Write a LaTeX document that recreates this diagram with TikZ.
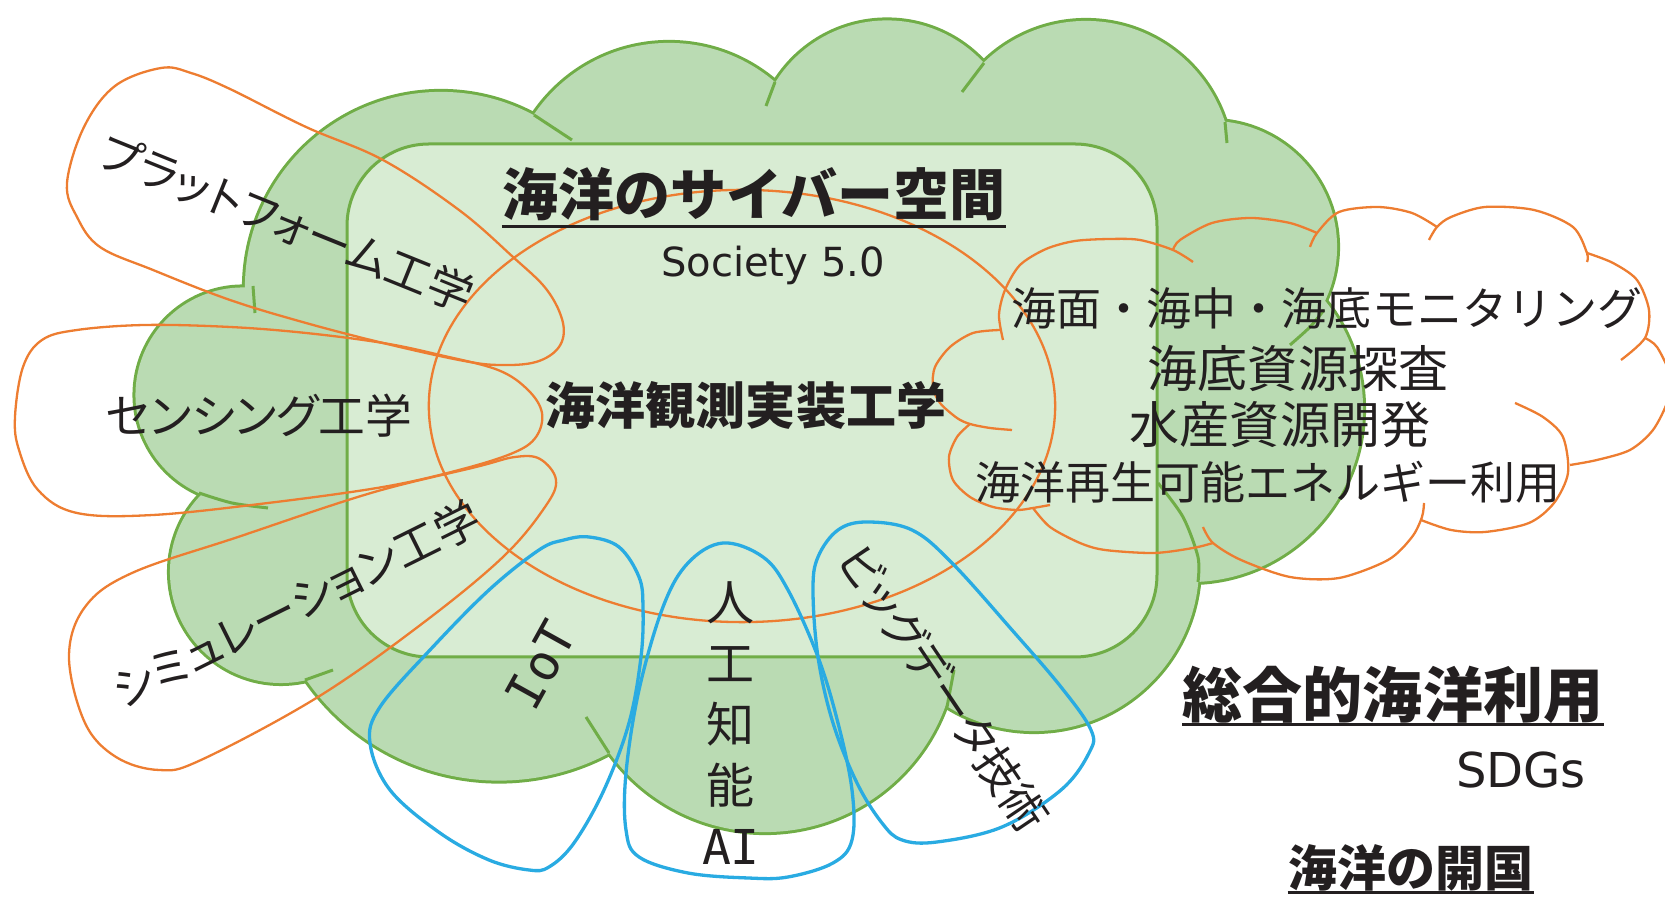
\documentclass[tikz,border=0pt]{standalone}
\usepackage{fontspec}
\setmainfont{Noto Sans CJK JP}
\newfontfamily\jpp[RawFeature=+palt]{Noto Sans CJK JP}
\newfontfamily\lat{DejaVu Sans}
\newfontfamily\latmono{DejaVu Sans Mono}
\usetikzlibrary{calc}
\definecolor{gfill}{HTML}{BADBB3}
\definecolor{rfill}{HTML}{D8ECD3}
\definecolor{gline}{HTML}{70AD47}
\definecolor{oline}{HTML}{ED7D31}
\definecolor{bline}{HTML}{29ABE2}
\definecolor{txt}{HTML}{231F20}
\tikzset{
  gstroke/.style={draw=gline, line width=0.06cm},
  stub/.style={draw=gline, line width=0.03cm},
  rectbox/.style={draw=gline, fill=rfill, line width=0.03cm, rounded corners=0.82cm},
  oloop/.style={draw=oline, line width=0.023cm},
  bloop/.style={draw=bline, line width=0.033cm},
  lbl/.style={text=txt, inner sep=0pt},
  uline/.style={draw=txt, line width=0.03cm},
}
\begin{document}
\begin{tikzpicture}[x=0.01cm,y=-0.01cm]
\useasboundingbox (0,0) rectangle (1665,904);
\clip (0,0) rectangle (1665,904);
% ---- big green cloud (union of lobes)
\foreach \cx/\cy/\r in {441/288/1.96, 669/206/1.63, 887/152/1.315, 1086/167/1.46, 1211/247/1.26, 1190/409/1.73, 1034/566/1.65, 765/640/1.92, 499/546/2.345, 281/572/1.11, 243/395/1.075}
  \draw[gstroke] (\cx,\cy) circle[radius=\r cm];
\foreach \cx/\cy/\r in {441/288/1.96, 669/206/1.63, 887/152/1.315, 1086/167/1.46, 1211/247/1.26, 1190/409/1.73, 1034/566/1.65, 765/640/1.92, 499/546/2.345, 281/572/1.11, 243/395/1.075}
  \fill[gfill] (\cx,\cy) circle[radius=\r cm];
\fill[gfill] (256,290) -- (534,118) -- (775,85) -- (984,66) -- (1222,124) -- (1320,310) -- (1196,579) -- (947,704) -- (609,750) -- (307,677) -- (202,492) -- cycle;
% stubs
\draw[stub] (253,286) -- (255,313);
\draw[stub] (534,115) -- (572,140);
\draw[stub] (775,82) -- (766,106);
\draw[stub] (984,63) -- (962,92);
\draw[stub] (1225,122) -- (1227,143);
\draw[stub] plot[smooth] coordinates {(1324,310) (1310,327) (1290,345)};
\draw[stub] plot[smooth] coordinates {(1198,582) (1198,557) (1183,517) (1158,483)};
\draw[stub] (947,707) -- (954,670);
\draw[stub] (609,753) -- (586,717);
\draw[stub] (305,680) -- (333,670);
\draw[stub] plot[smooth] coordinates {(199,493) (232,503) (268,508)};
% ---- inner rounded rectangle
\draw[rectbox] (347,144) rectangle (1157,657);
% ---- orange shapes
\draw[oloop] (742,406) ellipse[x radius=3.13cm, y radius=2.16cm];
\draw[oloop] plot[smooth cycle, tension=0.6] coordinates {(161,68) (115,86) (84,127) (67,183) (77,217) (100,247) (153,270) (230,300) (306,323) (383,343) (459,360) (498,365) (536,362) (559,347) (563,323) (547,290) (513,257) (459,210) (383,160) (306,127) (230,89) (191,73)};
\draw[oloop] plot[smooth cycle, tension=0.6] coordinates {(77,330) (145,325) (230,327) (306,333) (383,343) (440,355) (498,370) (528,390) (542,413) (536,437) (513,453) (459,470) (383,487) (268,503) (153,515) (77,513) (38,490) (19,450) (15,417) (23,367) (42,340)};
\draw[oloop] plot[smooth cycle, tension=0.6] coordinates {(540,459) (556,480) (545,507) (503,557) (423,623) (318,697) (201,760) (159,770) (116,757) (85,723) (69,657) (85,607) (132,573) (238,537) (371,493) (476,467) (515,457)};
% right cloud
\draw[oloop] plot[smooth] coordinates {(1193,262) (1173,250) (1140,240) (1110,239) (1075,241) (1046,249) (1020,265) (1005,290) (999,315) (1003,340)};
\draw[oloop] plot[smooth] coordinates {(1000,330) (973,333) (950,347) (935,367) (933,387) (940,403) (957,418) (970,424) (990,428) (1012,430)};
\draw[oloop] plot[smooth] coordinates {(970,424) (957,437) (949,457) (953,480) (970,497) (993,507) (1017,510) (1033,508) (1050,505)};
\draw[oloop] plot[smooth] coordinates {(1033,508) (1050,527) (1080,543) (1105,550) (1154,553) (1193,548) (1213,543)};
\draw[oloop] plot[smooth] coordinates {(1203,527) (1213,543) (1241,560) (1290,577) (1339,578) (1388,560) (1412,537) (1422,517) (1424,503)};
\draw[oloop] plot[smooth] coordinates {(1421,520) (1451,530) (1485,532) (1529,523) (1554,503) (1568,473) (1563,437) (1543,417) (1515,403)};
\draw[oloop] plot[smooth] coordinates {(1570,465) (1597,460) (1630,450) (1653,430) (1668,400) (1670,375) (1657,347) (1645,338)};
\draw[oloop] plot[smooth] coordinates {(1621,360) (1645,338) (1649,310) (1637,280) (1613,263) (1587,253)};
\draw[oloop] plot[smooth] coordinates {(1587,262) (1587,253) (1573,227) (1534,210) (1485,207) (1451,217) (1437,227) (1429,240)};
\draw[oloop] plot[smooth] coordinates {(1310,247) (1317,233) (1339,212) (1378,207) (1412,213) (1437,227)};
\draw[oloop] plot[smooth] coordinates {(1173,250) (1180,240) (1212,223) (1251,218) (1290,223) (1317,233)};
% ---- blue loops
\draw[bloop] plot[smooth cycle, tension=0.6] coordinates {(589,537) (619,547) (639,577) (643,607) (641,657) (629,723) (604,790) (574,843) (549,867) (529,870) (489,860) (440,833) (390,790) (370,743) (380,707) (430,650) (489,590) (539,550) (564,540)};
\draw[bloop] plot[smooth cycle, tension=0.6] coordinates {(723,543) (763,557) (788,590) (818,657) (838,723) (852,790) (852,840) (833,863) (788,877) (748,878) (688,873) (639,857) (626,830) (626,773) (639,690) (663,607) (688,563)};
\draw[bloop] plot[smooth cycle, tension=0.6] coordinates {(867,522) (912,530) (952,563) (1012,630) (1061,687) (1091,730) (1089,753) (1061,790) (1002,827) (937,842) (902,840) (882,823) (857,783) (833,723) (818,657) (813,590) (818,557) (838,530)};
% ---- texts
\node[lbl, font=\bfseries\fontsize{15.93pt}{18pt}\selectfont] (title) at (754,194) {海洋のサイバー空間};
\draw[uline] ($(title.west)+(0,33)$) -- ($(title.east)+(0,33)$);
\node[lbl, anchor=base, font=\lat\fontsize{11.4pt}{13pt}\selectfont] (soc) at (773,277) {Society 5.0};
\node[lbl, font=\bfseries\fontsize{14.23pt}{16pt}\selectfont] (kansoku) at (746,405) {海洋観測実装工学};
\node[lbl, font=\jpp\fontsize{13.3pt}{16pt}\selectfont] (sensing) at (259,416) {センシング工学};
\node[lbl, rotate=-22, font=\jpp\fontsize{12.8pt}{15pt}\selectfont] (platform) at (287,223) {プラットフォーム工学};
\node[lbl, rotate=26.4, font=\jpp\fontsize{12.8pt}{15pt}\selectfont] (sim) at (296,604) {シミュレーション工学};
\node[lbl, rotate=61, font=\latmono\fontsize{14.2pt}{16pt}\selectfont] (iot) at (541,665) {IoT};
\node[lbl, align=center, font=\fontsize{13.66pt}{17.36pt}\selectfont] (ai) at (731,723) {人\\工\\知\\能\\{\latmono AI}};
\node[lbl, rotate=-56, font=\jpp\fontsize{12.8pt}{15pt}\selectfont] (bigdata) at (944,688) {ビッグデータ技術};
\node[lbl, font=\fontsize{12.8pt}{15pt}\selectfont] (r1) at (1327,308) {海面・海中・海底モニタリング};
\node[lbl, font=\fontsize{14.23pt}{16pt}\selectfont] (r2) at (1298,369) {海底資源探査};
\node[lbl, font=\fontsize{14.23pt}{16pt}\selectfont] (r3) at (1280,425) {水産資源開発};
\node[lbl, font=\fontsize{12.8pt}{15pt}\selectfont] (r4) at (1268,482) {海洋再生可能エネルギー利用};
\node[lbl, font=\bfseries\fontsize{17.07pt}{19pt}\selectfont] (sogo) at (1393,695) {総合的海洋利用};
\draw[uline] ($(sogo.west)+(0,30)$) -- ($(sogo.east)+(0,30)$);
\node[lbl, anchor=base, font=\lat\fontsize{13.66pt}{16pt}\selectfont] (sdgs) at (1521,788) {SDGs};
\node[lbl, font=\bfseries\fontsize{13.94pt}{16pt}\selectfont] (kaikoku) at (1411,868) {海洋の開国};
\draw[uline] ($(kaikoku.west)+(0,25)$) -- ($(kaikoku.east)+(0,25)$);
\end{tikzpicture}
\end{document}
